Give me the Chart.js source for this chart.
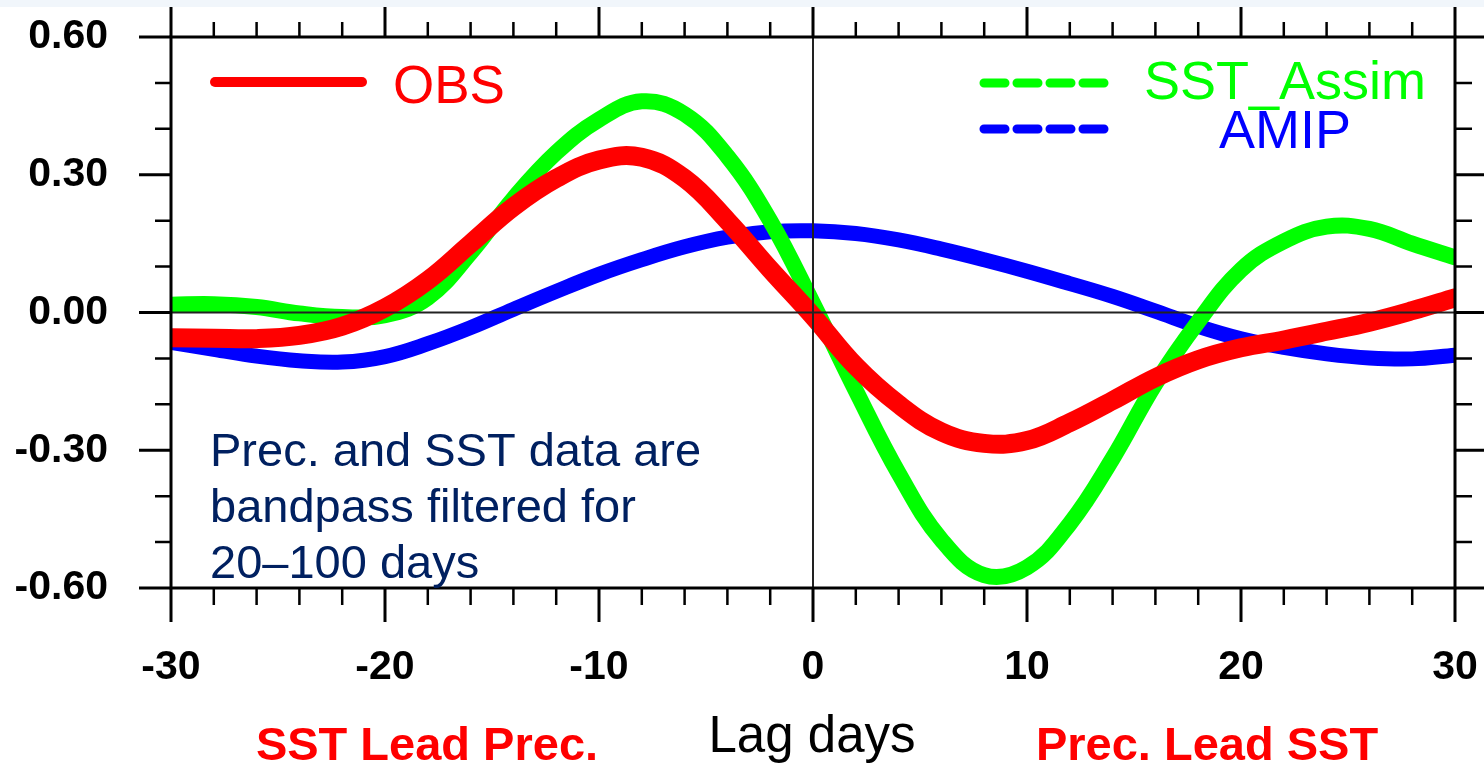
<!DOCTYPE html>
<html>
<head>
<meta charset="utf-8">
<script src="https://cdn.jsdelivr.net/npm/chart.js@4/dist/chart.umd.min.js"></script>
<style>
    html, body { margin: 0; padding: 0; background: #ffffff; }
    #wrap { width: 1484px; height: 763px; }
</style>
</head>
<body>
<div id="wrap"><canvas id="lagChart" width="1484" height="763"></canvas></div>
<script>
// Lag correlation values (every 2 days)
const lagDays = [-30, -28, -26, -24, -22, -20, -18, -16, -14, -12, -10, -8, -6, -4, -2, 0,
                 2, 4, 6, 8, 10, 12, 14, 16, 18, 20, 22, 24, 26, 28, 30];
const obs = [-0.055, -0.056, -0.057, -0.050, -0.030, 0.010, 0.070, 0.150, 0.230, 0.292, 0.332, 0.338, 0.292, 0.200, 0.094, -0.008,
             -0.117, -0.200, -0.260, -0.285, -0.279, -0.240, -0.192, -0.142, -0.103, -0.077, -0.060, -0.041, -0.021, 0.004, 0.032];
const sstAssim = [0.017, 0.018, 0.012, -0.002, -0.010, -0.006, 0.032, 0.130, 0.248, 0.348, 0.420, 0.460, 0.432, 0.340, 0.200, 0.020,
                  -0.170, -0.350, -0.495, -0.572, -0.555, -0.460, -0.318, -0.155, -0.020, 0.093, 0.155, 0.187, 0.182, 0.150, 0.120];
const amip = [-0.065, -0.080, -0.095, -0.105, -0.108, -0.096, -0.068, -0.033, 0.007, 0.046, 0.083, 0.115, 0.143, 0.164, 0.176, 0.178,
              0.172, 0.158, 0.138, 0.115, 0.090, 0.063, 0.035, 0.003, -0.030, -0.057, -0.076, -0.090, -0.099, -0.101, -0.093];

// Axis ticks
const xTickValues = [-30, -20, -10, 0, 10, 20, 30];
const xTickLabels = ['-30', '-20', '-10', '0', '10', '20', '30'];
const yTickValues = [-0.6, -0.3, 0, 0.3, 0.6];
const yTickLabels = ['-0.60', '-0.30', '0.00', '0.30', '0.60'];
const xMinorTicks = [-28, -26, -24, -22, -18, -16, -14, -12, -8, -6, -4, -2, 2, 4, 6, 8, 12, 14, 16, 18, 22, 24, 26, 28];
const yMinorTicks = [-0.5, -0.4, -0.2, -0.1, 0.1, 0.2, 0.4, 0.5];

const FONT = "'Liberation Sans', Arial, Helvetica, sans-serif";

function toPoints(values) {
    return lagDays.map((d, i) => ({ x: d, y: values[i] }));
}

// Frame, outward ticks on all four sides, zero lines
const framePlugin = {
    id: 'frame',
    beforeDraw(chart) {
        const ctx = chart.ctx;
        ctx.save();
        ctx.fillStyle = '#f1f6fb';
        ctx.fillRect(0, 0, chart.width, 7);
        ctx.restore();
    },
    afterDatasetsDraw(chart) {
        const ctx = chart.ctx;
        const a = chart.chartArea;
        const xs = chart.scales.x;
        const ys = chart.scales.y;
        ctx.save();

        // zero lines
        ctx.strokeStyle = '#222';
        ctx.lineWidth = 2;
        const y0 = ys.getPixelForValue(0);
        const x0 = xs.getPixelForValue(0);
        ctx.beginPath();
        ctx.moveTo(a.left, y0); ctx.lineTo(a.right, y0);
        ctx.moveTo(x0, a.top); ctx.lineTo(x0, a.bottom);
        ctx.stroke();

        ctx.strokeStyle = '#000';
        ctx.lineWidth = 3;
        ctx.strokeRect(a.left, a.top, a.right - a.left, a.bottom - a.top);

        ctx.beginPath();
        xTickValues.forEach(v => {
            const px = xs.getPixelForValue(v);
            ctx.moveTo(px, a.bottom); ctx.lineTo(px, a.bottom + 34);
            ctx.moveTo(px, a.top); ctx.lineTo(px, a.top - 30);
        });
        yTickValues.forEach(v => {
            const py = ys.getPixelForValue(v);
            ctx.moveTo(a.left, py); ctx.lineTo(a.left - 32, py);
            ctx.moveTo(a.right, py); ctx.lineTo(a.right + 30, py);
        });
        ctx.stroke();

        ctx.lineWidth = 2.5;
        ctx.beginPath();
        xMinorTicks.forEach(v => {
            const px = xs.getPixelForValue(v);
            ctx.moveTo(px, a.bottom); ctx.lineTo(px, a.bottom + 17);
            ctx.moveTo(px, a.top); ctx.lineTo(px, a.top - 15);
        });
        yMinorTicks.forEach(v => {
            const py = ys.getPixelForValue(v);
            ctx.moveTo(a.left, py); ctx.lineTo(a.left - 16, py);
            ctx.moveTo(a.right, py); ctx.lineTo(a.right + 17, py);
        });
        ctx.stroke();
        ctx.restore();
    },
    afterDraw(chart) {
        const ctx = chart.ctx;
        const ds = chart.data.datasets;
        ctx.save();
        ctx.lineCap = 'round';

        // legend: OBS
        ctx.strokeStyle = ds[0].borderColor;
        ctx.lineWidth = 10;
        ctx.beginPath();
        ctx.moveTo(215, 82); ctx.lineTo(362, 82);
        ctx.stroke();
        ctx.fillStyle = ds[0].borderColor;
        ctx.font = '53px ' + FONT;
        ctx.textAlign = 'left';
        ctx.textBaseline = 'alphabetic';
        ctx.fillText(ds[0].label, 393, 103);

        // legend: SST_Assim and AMIP (dashed)
        ctx.lineWidth = 9;
        ctx.setLineDash([21, 12]);
        [[ds[1], 83, 99], [ds[2], 129, 148]].forEach(([d, ly, ty]) => {
            ctx.strokeStyle = d.borderColor;
            ctx.beginPath();
            ctx.moveTo(984, ly); ctx.lineTo(1108, ly);
            ctx.stroke();
            ctx.fillStyle = d.borderColor;
            ctx.font = '54px ' + FONT;
            ctx.textAlign = 'center';
            ctx.fillText(d.label, 1285, ty);
        });
        ctx.setLineDash([]);

        // note inside the plot
        ctx.fillStyle = '#002060';
        ctx.font = '47px ' + FONT;
        ctx.textAlign = 'left';
        ['Prec. and SST data are', 'bandpass filtered for', '20\u2013100 days'].forEach((t, i) => {
            ctx.fillText(t, 210, 466 + i * 56);
        });

        // axis title and lead labels
        ctx.fillStyle = '#000';
        ctx.font = '51px ' + FONT;
        ctx.textAlign = 'center';
        ctx.fillText('Lag days', 812, 752);

        ctx.fillStyle = '#ff0000';
        ctx.font = 'bold 47px ' + FONT;
        ctx.fillText('SST Lead Prec.', 427, 760);
        ctx.fillText('Prec. Lead SST', 1207, 760);
        ctx.restore();
    }
};

const ctx = document.getElementById('lagChart').getContext('2d');
new Chart(ctx, {
    type: 'line',
    data: {
        datasets: [
            { label: 'OBS', data: toPoints(obs), borderColor: '#ff0000', borderWidth: 19 },
            { label: 'SST_Assim', data: toPoints(sstAssim), borderColor: '#00ff00', borderWidth: 16 },
            { label: 'AMIP', data: toPoints(amip), borderColor: '#0000ff', borderWidth: 15 }
        ].map(d => Object.assign(d, {
            pointRadius: 0,
            fill: false,
            tension: 0.4,
            borderCapStyle: 'round',
            borderJoinStyle: 'round'
        }))
    },
    options: {
        responsive: false,
        animation: false,
        layout: { padding: { top: 37, right: 29, left: 0, bottom: 0 } },
        plugins: { legend: { display: false }, tooltip: { enabled: false } },
        scales: {
            x: {
                type: 'linear',
                min: -30,
                max: 30,
                grid: { display: false },
                border: { display: false },
                afterBuildTicks: s => { s.ticks = xTickValues.map(v => ({ value: v })); },
                afterFit: s => { s.height = 175; s.paddingLeft = 0; s.paddingRight = 0; },
                ticks: {
                    autoSkip: false,
                    maxRotation: 0,
                    padding: 47,
                    color: '#000',
                    font: { family: FONT, size: 41, weight: 'bold' },
                    callback: (v, i) => xTickLabels[i]
                }
            },
            y: {
                min: -0.6,
                max: 0.6,
                grid: { display: false },
                border: { display: false },
                afterBuildTicks: s => { s.ticks = yTickValues.map(v => ({ value: v })); },
                afterFit: s => { s.width = 171; s.paddingTop = 0; s.paddingBottom = 0; },
                ticks: {
                    autoSkip: false,
                    padding: 55,
                    color: '#000',
                    font: { family: FONT, size: 41, weight: 'bold' },
                    callback: (v, i) => yTickLabels[i]
                }
            }
        }
    },
    plugins: [framePlugin]
});
</script>
</body>
</html>
